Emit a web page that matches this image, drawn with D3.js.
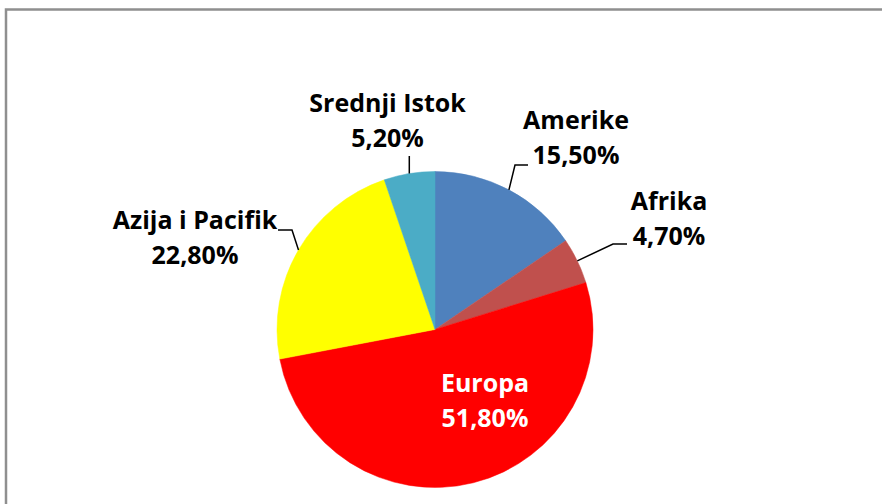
<!DOCTYPE html>
<html>
<head>
<meta charset="utf-8">
<script src="https://cdn.jsdelivr.net/npm/d3@7"></script>
<style>
html,body{margin:0;padding:0;background:#fff;}
svg{display:block;}
text{font-family:"Open Sans",Lato,"Liberation Sans",sans-serif;font-weight:700;}
</style>
</head>
<body>
<svg id="chart" width="882" height="504"></svg>
<script>
const categories = ["Amerike", "Afrika", "Europa", "Azija i Pacifik", "Srednji Istok"];
const values = [15.5, 4.7, 51.8, 22.8, 5.2];
const valueLabels = ["15,50%", "4,70%", "51,80%", "22,80%", "5,20%"];
const colors = ["#4F81BD", "#C0504D", "#FF0000", "#FFFF00", "#4BACC6"];

// layout (label anchor: center x, first baseline y; elbow of leader line)
const layout = {
  cx: 435, cy: 329.5, r: 158, lineGap: 35, fontSize: 25,
  labels: [
    {x: 576, y: 129, elbow: [515, 165], end: [528, 165], color: "#000"},
    {x: 669, y: 210, elbow: [613, 244], end: [627, 244], color: "#000"},
    {x: 485, y: 392, elbow: null, color: "#fff"},
    {x: 195, y: 229, elbow: [292, 230], end: [278, 230], color: "#000"},
    {x: 387.5, y: 112, elbow: [409.3, 156], end: null, color: "#000"}
  ]
};

const svg = d3.select("#chart");

svg.append("rect")
  .attr("x", 6).attr("y", 9.5)
  .attr("width", 1000).attr("height", 1000)
  .attr("fill", "none").attr("stroke", "#8f8f8f").attr("stroke-width", 2.5);

const data = categories.map((c, i) => ({name: c, value: values[i], label: valueLabels[i], color: colors[i], lay: layout.labels[i]}));

const pie = d3.pie().sort(null).value(d => d.value);
const arcs = pie(data);
const arc = d3.arc().innerRadius(0).outerRadius(layout.r);

const g = svg.append("g").attr("transform", `translate(${layout.cx},${layout.cy})`);
g.selectAll("path.slice").data(arcs).join("path")
  .attr("class", "slice")
  .attr("d", arc)
  .attr("fill", d => d.data.color)
  .attr("stroke", d => d.data.color)
  .attr("stroke-width", 0.5);

// leader lines
arcs.forEach(a => {
  const L = a.data.lay;
  if (!L.elbow) return;
  const mid = (a.startAngle + a.endAngle) / 2;
  const px = layout.cx + layout.r * Math.sin(mid);
  const py = layout.cy - layout.r * Math.cos(mid);
  const pts = [[px, py], L.elbow];
  if (L.end) pts.push(L.end);
  svg.append("path")
    .attr("d", d3.line()(pts))
    .attr("fill", "none").attr("stroke", "#000").attr("stroke-width", 1.5);
});

// labels
arcs.forEach(a => {
  const L = a.data.lay;
  const t = svg.append("text")
    .attr("text-anchor", "middle")
    .attr("font-size", layout.fontSize)
    .attr("fill", L.color);
  t.append("tspan").attr("x", L.x).attr("y", L.y).text(a.data.name);
  t.append("tspan").attr("x", L.x).attr("y", L.y + layout.lineGap).text(a.data.label);
});
</script>
</body>
</html>
